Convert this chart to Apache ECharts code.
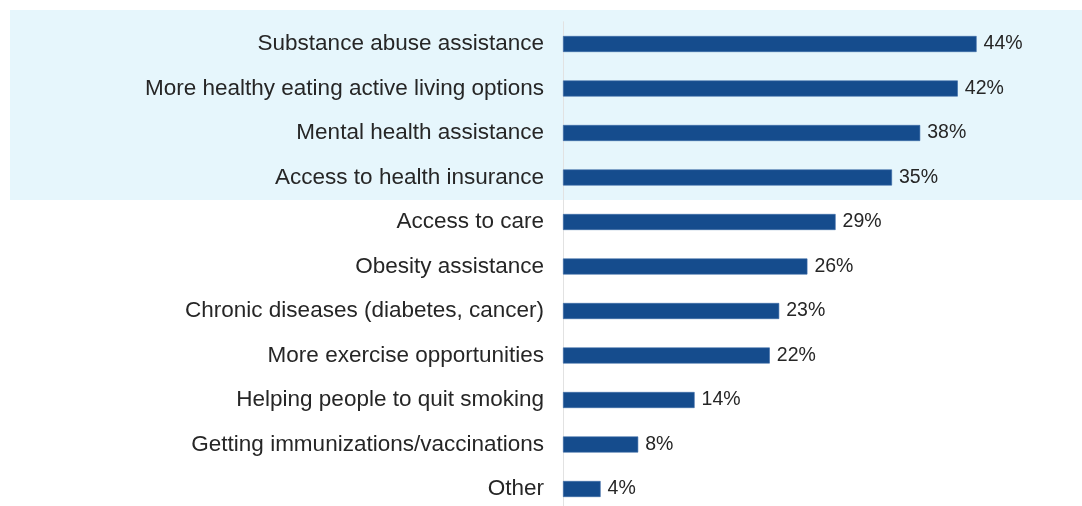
<!DOCTYPE html>
<html>
<head>
<meta charset="utf-8">
<title>Health priorities</title>
<script src="https://cdn.jsdelivr.net/npm/echarts@6/dist/echarts.min.js"></script>
<style>
  html, body { margin: 0; padding: 0; background: #ffffff; overflow: hidden; }
  /* a bit taller than the window: the last row runs past the bottom edge */
  #chart { width: 1082px; height: 520px; }
</style>
</head>
<body>
<div id="chart"></div>
<script>
const categories = [
  'Substance abuse assistance',
  'More healthy eating active living options',
  'Mental health assistance',
  'Access to health insurance',
  'Access to care',
  'Obesity assistance',
  'Chronic diseases (diabetes, cancer)',
  'More exercise opportunities',
  'Helping people to quit smoking',
  'Getting immunizations/vaccinations',
  'Other'
]
const values = [44, 42, 38, 35, 29, 26, 23, 22, 14, 8, 4]

const chart = echarts.init(document.getElementById('chart'))

chart.setOption({
  animation: false,
  textStyle: {
    fontFamily: '"Liberation Sans", Arial, sans-serif'
  },
  // light blue band behind the top four rows
  graphic: [{
    type: 'rect',
    z: -10,
    shape: { x: 10, y: 10, width: 1072, height: 190 },
    style: { fill: '#E6F6FC' }
  }],
  grid: {
    left: 563,
    width: 470,
    top: 21.75,
    height: 489.5,
    containLabel: false
  },
  xAxis: {
    type: 'value',
    min: 0,
    max: 50,
    show: false
  },
  yAxis: {
    type: 'category',
    inverse: true,
    data: categories,
    axisTick: { show: false },
    axisLine: {
      lineStyle: { color: '#E2E2E2', width: 1 }
    },
    axisLabel: {
      color: '#262626',
      fontSize: 22.5,
      margin: 19
    }
  },
  series: [{
    type: 'bar',
    data: values,
    barWidth: 16,
    itemStyle: {
      color: '#154C8D',
      borderColor: '#3A6AA6',
      borderWidth: 0.6
    },
    label: {
      show: true,
      position: 'right',
      distance: 7,
      color: '#262626',
      fontSize: 19.5,
      formatter: '{c}%'
    }
  }]
})
</script>
</body>
</html>
